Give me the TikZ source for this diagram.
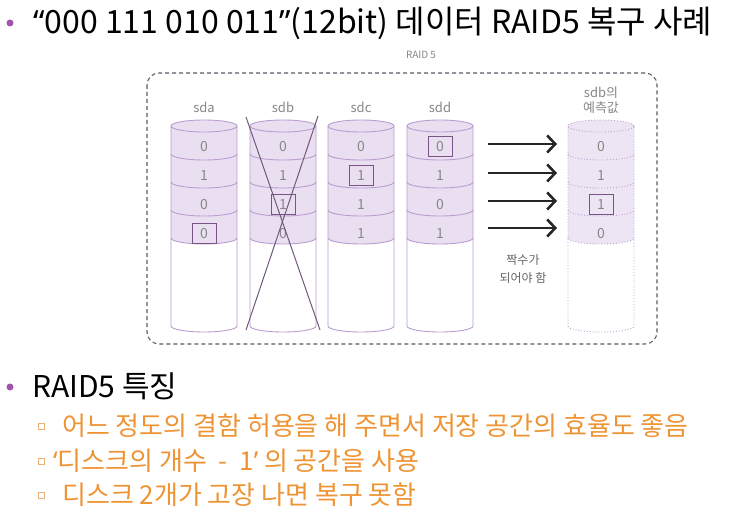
\documentclass[tikz,border=0pt]{standalone}
\usepackage{fontspec}
\setmainfont{Noto Sans CJK KR}
\newfontfamily\latinquote{Noto Sans}
\usetikzlibrary{arrows.meta}
\definecolor{bulletpurple}{RGB}{163, 82, 176}
\definecolor{diskfill}{RGB}{233, 223, 241}
\definecolor{guessfill}{RGB}{237, 229, 243}
\definecolor{diskline}{RGB}{186, 158, 208}
\definecolor{boxline}{RGB}{122, 84, 134}
\definecolor{crossline}{RGB}{112, 88, 122}
\definecolor{labelgray}{RGB}{135, 135, 135}
\definecolor{framegray}{RGB}{92, 92, 104}
\definecolor{accentorange}{RGB}{239, 148, 52}
\definecolor{squareorange}{RGB}{232, 178, 120}

\tikzset{
  disklabel/.style={font=\fontsize{13}{15}\selectfont, text=labelgray, inner sep=0pt},
  bitval/.style={font=\fontsize{14}{16}\selectfont, text=labelgray, inner sep=0pt},
  bitbox/.style={draw=boxline, line width=1pt, minimum width=24pt, minimum height=20pt, inner sep=0pt},
  parity/.style={-{Straight Barb[length=8pt, width=17pt]}, line width=2.6pt, black!85},
  headline/.style={anchor=base west, inner sep=0pt, font=\fontsize{32}{36}\selectfont},
  subline/.style={anchor=base west, inner sep=0pt, font=\fontsize{26}{30}\selectfont, text=accentorange},
}

% one disk: #1 = centre x, #2 = fill colour, #3 = extra line options
\newcommand{\drawdisk}[3]{%
  \fill[#2] (#1-33,-126) -- (#1-33,-238) arc[start angle=180, end angle=360, x radius=33, y radius=6]
    -- (#1+33,-126) arc[start angle=0, end angle=180, x radius=33, y radius=6] -- cycle;
  \draw[diskline, #3] (#1,-126) ellipse[x radius=33, y radius=6];
  \draw[diskline, #3] (#1-33,-126) -- (#1-33,-326) arc[start angle=180, end angle=360, x radius=33, y radius=6] -- (#1+33,-126);
  \foreach \yy in {154,182,210,238}
    \draw[diskline, #3] (#1-33,-\yy) arc[start angle=180, end angle=360, x radius=33, y radius=6];
}

\begin{document}
\begin{tikzpicture}[x=1pt, y=1pt]
\useasboundingbox (0,0) rectangle (729,-516);
\fill[white] (0,0) rectangle (729,-516);

% heading
\fill[bulletpurple] (10,-23) circle (3.5);
\node[headline] (title) at (33,-34) {{\latinquote “}000 111 010 011{\latinquote ”}(12bit) 데이터 RAID5 복구 사례};

% RAID 5 frame
\node[font=\fontsize{10}{12}\selectfont, text=labelgray] (raidname) at (421,-55) {RAID 5};
\draw[framegray, line width=1.1pt, dash pattern=on 4pt off 3pt, rounded corners=12pt] (147,-73) rectangle (657,-344);

% disks
\drawdisk{204}{diskfill}{line width=0.9pt}
\drawdisk{283}{diskfill}{line width=0.9pt}
\drawdisk{361}{diskfill}{line width=0.9pt}
\drawdisk{440}{diskfill}{line width=0.9pt}
\drawdisk{601}{guessfill}{dotted, line width=0.9pt}

\node[disklabel] (sda) at (204,-107) {sda};
\node[disklabel] (sdb) at (283,-107) {sdb};
\node[disklabel] (sdc) at (361,-107) {sdc};
\node[disklabel] (sdd) at (440,-107) {sdd};
\node[disklabel, align=center] (guess) at (601,-100) {sdb의\\예측값};

% bits in each disk
\foreach \v [count=\k] in {0,1,0,0}
  \node[bitval] (sda-\k) at (204,{-147-29*(\k-1)}) {\v};
\foreach \v [count=\k] in {0,1,1,0}
  \node[bitval] (sdb-\k) at (283,{-147-29*(\k-1)}) {\v};
\foreach \v [count=\k] in {0,1,1,1}
  \node[bitval] (sdc-\k) at (361,{-147-29*(\k-1)}) {\v};
\foreach \v [count=\k] in {0,1,0,1}
  \node[bitval] (sdd-\k) at (440,{-147-29*(\k-1)}) {\v};
\foreach \v [count=\k] in {0,1,1,0}
  \node[bitval] (guess-\k) at (601,{-147-29*(\k-1)}) {\v};

% parity marks
\node[bitbox] (sda-mark) at (sda-4) {};
\node[bitbox] (sdb-mark) at (sdb-3) {};
\node[bitbox] (sdc-mark) at (sdc-2) {};
\node[bitbox] (sdd-mark) at (sdd-1) {};
\node[bitbox] (guess-mark) at (guess-3) {};

% failed disk
\draw[crossline, line width=1pt] (246,-117) -- (320,-330);
\draw[crossline, line width=1pt] (318,-116) -- (246,-330);

% recovery arrows
\foreach \k/\yy in {1/144,2/173,3/201,4/228} {
  \coordinate (from-\k) at (488,-\yy);
  \coordinate (to-\k) at (557,-\yy);
  \draw[parity] (from-\k) -- (to-\k);
}
\node[font=\fontsize{12}{18}\selectfont, text=black!60, align=center] (evenrule) at (523,-269) {짝수가\\되어야 함};

% features
\fill[bulletpurple] (10,-387) circle (3.5);
\node[headline, font=\fontsize{30}{34}\selectfont] (features) at (32,-397) {RAID5 특징};
\foreach \k/\yy in {1/426,2/461,3/495}
  \draw[squareorange, line width=0.8pt] (38,-\yy+3) rectangle (44,-\yy-3);
\node[subline] (feat-1) at (62,-435) {어느 정도의 결함 허용을 해 주면서 저장 공간의 효율도 좋음};
\node[subline] (feat-2) at (53,-470) {{\latinquote ‘}디스크의 개수 \ - \ 1{\latinquote ’} 의 공간을 사용};
\node[subline] (feat-3) at (62,-504) {디스크 2개가 고장 나면 복구 못함};
\end{tikzpicture}
\end{document}
